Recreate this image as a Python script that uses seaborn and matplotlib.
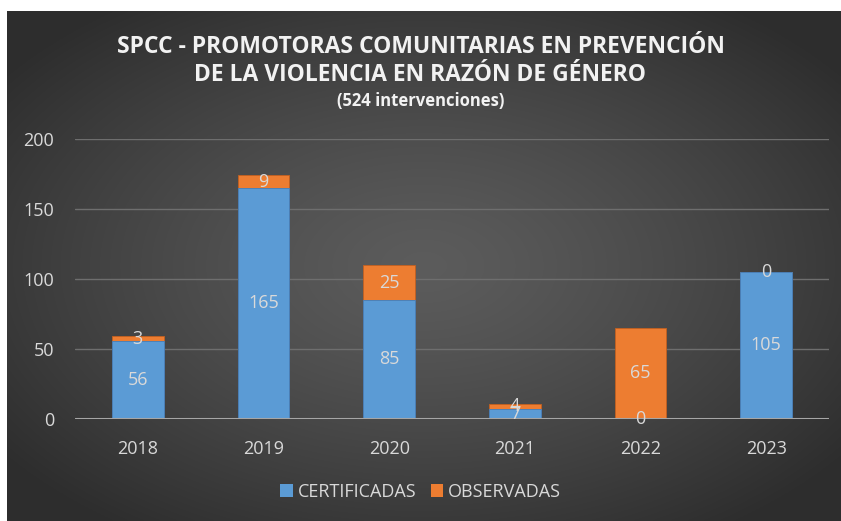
import numpy as np
import pandas as pd
import matplotlib
matplotlib.use("Agg")
import matplotlib.pyplot as plt
from matplotlib.patches import Patch
import seaborn as sns

years = ["2018", "2019", "2020", "2021", "2022", "2023"]
certificadas = [56, 165, 85, 7, 0, 105]
observadas = [3, 9, 25, 4, 65, 0]
yticks = [0, 50, 100, 150, 200]
title_lines = ["SPCC - PROMOTORAS COMUNITARIAS EN PREVENCIÓN",
               "DE LA VIOLENCIA EN RAZÓN DE GÉNERO",
               "(524 intervenciones)"]
legend_labels = ["CERTIFICADAS", "OBSERVADAS"]

BLUE = "#5B9BD5"
ORANGE = "#ED7D31"
TXT = "#d9d9d9"

sns.set_theme(style="dark")
plt.rcParams['font.family'] = ['Open Sans', 'DejaVu Sans']

df = pd.DataFrame({"year": years, "cert": certificadas, "obs": observadas})
df["total"] = df["cert"] + df["obs"]

W, H = 841, 521
fig = plt.figure(figsize=(W / 100, H / 100), dpi=100)
fig.patch.set_facecolor("white")

# background radial gradient
bg = fig.add_axes([7 / W, 0, (W - 7) / W, (H - 11) / H])
nx, ny = 400, 250
xx, yy = np.meshgrid(np.linspace(-1, 1, nx), np.linspace(-1, 1, ny))
r = np.sqrt(xx ** 2 + yy ** 2)
r = np.clip(r / 1.25, 0, 1)
val = 0.36 - 0.18 * r ** 1.3
bg.imshow(np.dstack([val, val, val]), aspect="auto", extent=[0, 1, 0, 1], interpolation="bilinear")
bg.set_axis_off()

ax = fig.add_axes([75 / W, (H - 419) / H, 754 / W, 280 / H])
ax.patch.set_alpha(0)

sns.barplot(data=df, x="year", y="total", color=ORANGE, width=0.41, saturation=1,
            ax=ax, edgecolor="#c4601f", linewidth=0.6, zorder=3)
sns.barplot(data=df, x="year", y="cert", color=BLUE, width=0.41, saturation=1,
            ax=ax, edgecolor="#3f7fbf", linewidth=0.6, zorder=4)

for i, (c, o) in enumerate(zip(certificadas, observadas)):
    ax.text(i, c / 2, str(c), ha="center", va="center", color=TXT, fontsize=13, zorder=6)
    ax.text(i, c + o / 2, str(o), ha="center", va="center", color=TXT, fontsize=13, zorder=6)

ax.set_ylim(0, 200)
ax.set_xlim(-0.5, len(years) - 0.5)
ax.set_yticks(yticks)
ax.set_yticklabels([str(v) for v in yticks])
for v in yticks[1:]:
    ax.axhline(v, color="#6e6e6e", linewidth=1.0, zorder=1)
ax.axhline(0, color="#a6a6a6", linewidth=2.2, zorder=5)
ax.grid(False)
for s in ax.spines.values():
    s.set_visible(False)
ax.set_xlabel("")
ax.set_ylabel("")
ax.tick_params(axis="y", colors=TXT, labelsize=13, length=0, pad=15)
ax.tick_params(axis="x", colors=TXT, labelsize=13, length=0, pad=15)

fig.text(0.5, 1 - 47 / H, title_lines[0], ha="center", va="center", color="#f2f2f2",
         fontsize=16.5, fontweight="bold")
fig.text(0.5, 1 - 75 / H, title_lines[1], ha="center", va="center", color="#f2f2f2",
         fontsize=16.5, fontweight="bold")
fig.text(0.5, 1 - 101 / H, title_lines[2], ha="center", va="center", color="#f2f2f2",
         fontsize=12, fontweight="bold")

handles = [Patch(facecolor=BLUE, edgecolor="none"), Patch(facecolor=ORANGE, edgecolor="none")]
leg = fig.legend(handles, legend_labels, loc="center", bbox_to_anchor=(0.5, 1 - 492 / H),
                 ncol=2, frameon=False, fontsize=13, handlelength=0.7, handleheight=0.7,
                 handletextpad=0.25, columnspacing=0.8)
for t in leg.get_texts():
    t.set_color(TXT)

fig.savefig("out.png", dpi=100)
